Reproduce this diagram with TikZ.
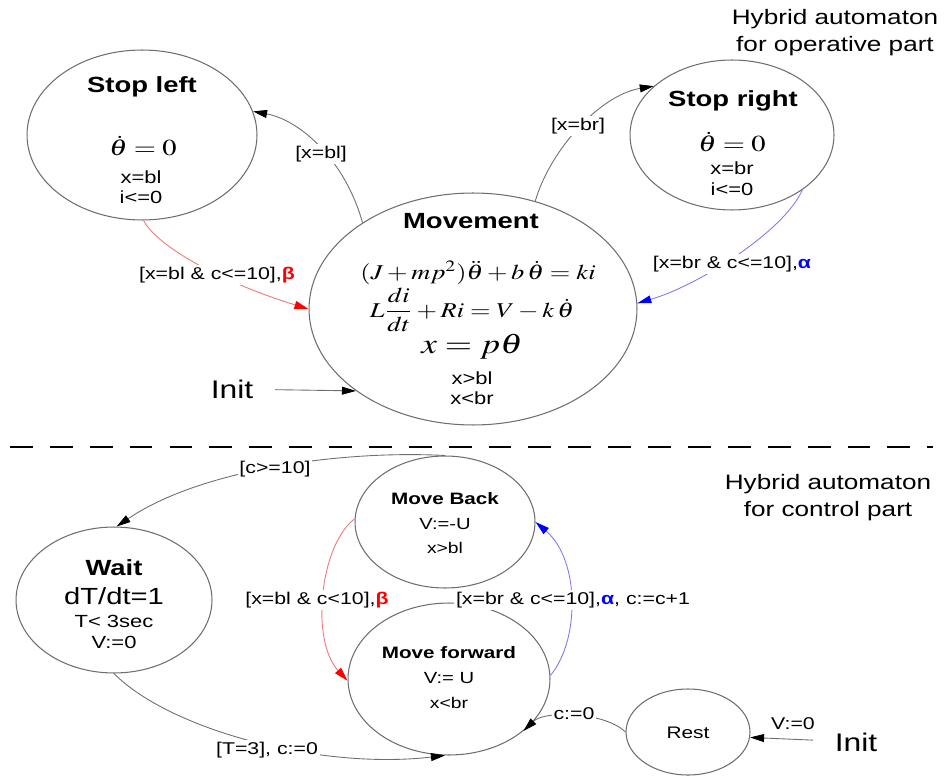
\documentclass[tikz,border=0pt]{standalone}
\usepackage{mathptmx}
\usepackage[no-math]{fontspec}
\setmainfont{Liberation Sans}[FakeStretch=1.25]
\usepackage{graphicx}
\usetikzlibrary{shapes.geometric,arrows.meta}
\definecolor{stroke}{HTML}{6E6E6E}
\definecolor{lred}{HTML}{F07878}
\definecolor{lblue}{HTML}{7C7CF0}
\newcommand{\wide}[1]{\scalebox{1.25}[1]{#1}}
\newcommand{\fsz}[1]{\fontsize{#1}{#1}\selectfont}
\tikzset{
  state/.style={ellipse,draw=stroke,line width=0.6pt,inner sep=0pt},
  sttitle/.style={font={\bfseries\fsz{12.5}}},
  smtitle/.style={font={\bfseries\fsz{9.4}}},
  small/.style={font=\fsz{10}},
  tiny/.style={font=\fsz{8.8}},
  eq/.style={font=\fsz{13},inner sep=0pt},
  lbl/.style={fill=white,inner sep=1pt,font=\fsz{9.7}},
  note/.style={align=center,font={\fontsize{11.9}{15.4}\selectfont}},
  edge/.style={draw=stroke,line width=0.5pt,-{Triangle[length=8pt,width=4.5pt,color=black]}},
  redge/.style={draw=lred,line width=0.5pt,-{Triangle[length=8pt,width=4.5pt,color=red]}},
  bedge/.style={draw=lblue,line width=0.5pt,-{Triangle[length=8pt,width=4.5pt,color=blue]}}
}
\begin{document}
\begin{tikzpicture}[x=0.02cm,y=-0.02cm]
\useasboundingbox (0,0) rectangle (945,776);
% operative part
\node[state,minimum width=4.6cm,minimum height=3.4cm] (sl) at (142,135) {};
\node[state,minimum width=4.08cm,minimum height=3cm] (sr) at (732,135) {};
\node[state,minimum width=6.56cm,minimum height=4.64cm] (mv) at (473,309) {};
\node[sttitle] (sl-t) at (142,87) {Stop left};
\node[eq] (sl-e) at (143,146) {\wide{$\dot\theta=0$}};
\node[small] (sl-x) at (141,177) {x=bl};
\node[small] (sl-i) at (141,197) {i<=0};
\node[sttitle] (sr-t) at (733,101) {Stop right};
\node[eq] (sr-e) at (732,142) {\wide{$\dot\theta=0$}};
\node[small] (sr-x) at (732,168) {x=br};
\node[small] (sr-i) at (732,189) {i<=0};
\node[sttitle] (mv-t) at (471,221) {Movement};
\node[eq,font=\fsz{12}] (mv-e1) at (478,273) {\wide{$(J+mp^2)\ddot\theta+b\,\dot\theta=ki$}};
\node[eq,font=\fsz{12}] (mv-e2) at (472,310) {\wide{$\displaystyle L\frac{di}{dt}+Ri=V-k\,\dot\theta$}};
\node[eq,font=\fsz{16}] (mv-e3) at (472,347) {\wide{$x=p\theta$}};
\node[small] (mv-x1) at (472,378) {x>bl};
\node[small] (mv-x2) at (472,398) {x<br};
\node[note] (hy-op) at (835,33) {Hybrid automaton\\for operative part};
\node[font=\fsz{14.5}] (init) at (232,389) {Init};
\draw[edge] (mv.142) .. controls (345,160) and (300,120) .. (sl.12);
\draw[edge] (mv.60) .. controls (550,150) and (600,95) .. (sr.148);
\draw[redge] (sl.-89) .. controls (160,250) and (230,285) .. (mv.180);
\draw[bedge] (sr.-38) .. controls (785,230) and (700,285) .. (mv.2);
\draw[edge,shorten <=9pt] (init) -- (mv.215);
\node[lbl] (l-bl) at (321,154) {[x=bl]};
\node[lbl] (l-br) at (578,126) {[x=br]};
\node[lbl] (l-beta) at (217,275) {[x=bl \& c<=10],\textbf{\color{red}β}};
\node[lbl] (l-alpha) at (732,264) {[x=br \& c<=10],\textbf{\color{blue}α}};
% divider
\draw[line width=1.7pt,dash pattern=on 13pt off 9.7pt] (10,447) -- (933,447);
% control part
\node[state,minimum width=3.92cm,minimum height=2.92cm] (wait) at (114,600) {};
\node[state,minimum width=3.6cm,minimum height=2.64cm] (mb) at (445,522) {};
\node[state,minimum width=4.04cm,minimum height=3.04cm] (mf) at (449,679) {};
\node[state,minimum width=2.48cm,minimum height=1.72cm] (rest) at (688,732) {};
\node[sttitle] (wait-t) at (114,568) {Wait};
\node[font=\fsz{13.3}] (wait-1) at (114,596) {dT/dt=1};
\node[small] (wait-2) at (114,621) {T< 3sec};
\node[small] (wait-3) at (114,642) {V:=0};
\node[smtitle] (mb-t) at (445,499) {Move Back};
\node[font=\fsz{9.2}] (mb-1) at (445,524) {V:=-U};
\node[tiny] (mb-2) at (445,548) {x>bl};
\node[smtitle] (mf-t) at (449,653) {Move forward};
\node[font=\fsz{9.2}] (mf-1) at (449,678) {V:= U};
\node[tiny] (mf-2) at (449,703) {x<br};
\node[font=\fsz{9.5}] (rest-t) at (688,733) {Rest};
\node[note] (hy-ctl) at (828,498) {Hybrid automaton\\for control part};
\node[font=\fsz{14.5}] (init2) at (856,742) {Init};
\draw[edge] (mb.90) .. controls (340,450) and (200,470) .. (wait.88);
\draw[edge] (wait.-90) .. controls (170,730) and (320,770) .. (mf.-93);
\draw[redge] (mb.178) .. controls (320,545) and (310,640) .. (mf.181);
\draw[bedge] (mf.2) .. controls (580,640) and (580,560) .. (mb.0);
\draw[edge] (rest.180) .. controls (605,712) and (545,710) .. (mf.-35);
\draw[edge,shorten <=9pt] (init2) -- (rest.-5);
\node[lbl] (l-c10) at (275,469) {[c>=10]};
\node[lbl] (l-t3) at (267,750) {[T=3], c:=0};
\node[lbl] (l-beta2) at (317,600) {[x=bl \& c<10],\textbf{\color{red}β}};
\node[lbl] (l-alpha2) at (573,600) {[x=br \& c<=10],\textbf{\color{blue}α}, c:=c+1};
\node[lbl] (l-c0) at (574,714) {c:=0};
\node[lbl,fill=none] (l-v0) at (793,724) {V:=0};
\end{tikzpicture}
\end{document}
